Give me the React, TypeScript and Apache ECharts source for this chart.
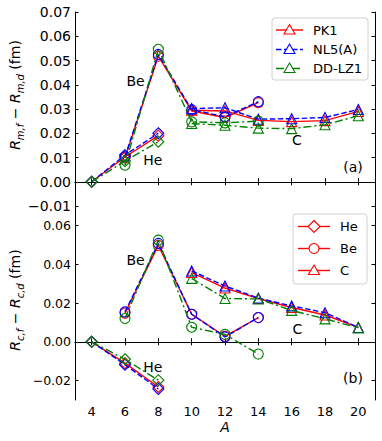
import React, { useEffect, useRef } from "react";
import * as echarts from "echarts";

// Mass numbers per isotope chain
const A_HE = [4, 6, 8];
const A_BE = [6, 8, 10, 12, 14];
const A_C = [10, 12, 14, 16, 18, 20];
const X_TICKS = [4, 6, 8, 10, 12, 14, 16, 18, 20];
const Y_TICKS_A = [-0.01, 0, 0.01, 0.02, 0.03, 0.04, 0.05, 0.06, 0.07];
const Y_TICKS_B = [-0.02, 0, 0.02, 0.04, 0.06];

const MODELS = ["PK1", "NL5(A)", "DD-LZ1"];
const COLORS = ["#ff0000", "#0000ff", "#008000"];
const DASHES: any[] = ["solid", [5.5, 2.5], [8, 3, 2, 3]];

// Panel (a): R_m,f - R_m,d (fm)
const rmHe = [
  [0, 0.0102, 0.019],
  [0, 0.011, 0.02],
  [0, 0.0085, 0.0165],
];
const rmBe = [
  [0.0098, 0.0518, 0.0292, 0.0265, 0.0326],
  [0.0103, 0.0525, 0.0297, 0.0268, 0.033],
  [0.0068, 0.0546, 0.0247, 0.0243, 0.025],
];
const rmC = [
  [0.0295, 0.0292, 0.0253, 0.0248, 0.0252, 0.029],
  [0.0302, 0.0305, 0.0258, 0.026, 0.0265, 0.0298],
  [0.024, 0.0233, 0.0221, 0.0219, 0.0235, 0.0272],
];

// Panel (b): R_c,f - R_c,d (fm)
const rcHe = [
  [0, -0.011, -0.0233],
  [0, -0.0118, -0.0243],
  [0, -0.009, -0.0198],
];
const rcBe = [
  [0.0148, 0.0497, 0.0142, 0.0028, 0.0125],
  [0.0154, 0.0507, 0.0142, 0.0025, 0.0125],
  [0.012, 0.0524, 0.0075, 0.0038, -0.0063],
];
const rcC = [
  [0.0357, 0.0277, 0.0223, 0.0177, 0.0138, 0.0074],
  [0.0365, 0.0288, 0.0225, 0.0185, 0.015, 0.0074],
  [0.0327, 0.0223, 0.0221, 0.0162, 0.0118, 0.0072],
];

const FONT = "DejaVu Sans";

function fmt(v: number) {
  const s = Math.abs(v).toFixed(2);
  return v < -1e-9 ? "\u2212" + s : s;
}

function mk(
  xs: number[],
  ys: number[],
  m: number,
  symbol: string,
  size: number,
  axis: number
) {
  return {
    type: "line",
    xAxisIndex: axis,
    yAxisIndex: axis,
    data: xs.map((x, i) => [x, ys[i]]),
    symbol,
    symbolSize: size,
    showAllSymbol: true,
    lineStyle: { color: COLORS[m], width: 1.4, type: DASHES[m] },
    itemStyle: { color: "rgba(0,0,0,0)", borderColor: COLORS[m], borderWidth: 1.1 },
    z: 3 + m,
    silent: true,
  };
}

function legendGraphic(
  x0: number,
  y0: number,
  w: number,
  h: number,
  rows: { y: number; text: string; color: string; dash: any; symbol: string }[],
  lx0: number,
  lx1: number,
  tx: number
) {
  const els: any[] = [
    {
      type: "rect",
      shape: { x: x0, y: y0, width: w, height: h, r: 3 },
      style: { fill: "rgba(255,255,255,0.8)", stroke: "#d0d0d0", lineWidth: 1 },
      z: 20,
    },
  ];
  rows.forEach((r) => {
    els.push({
      type: "line",
      shape: { x1: lx0, y1: r.y, x2: lx1, y2: r.y },
      style: {
        stroke: r.color,
        lineWidth: 1.4,
        lineDash: r.dash === "solid" ? null : r.dash,
      },
      z: 21,
    });
    const cx = (lx0 + lx1) / 2;
    const st = { fill: "#fff", stroke: r.color, lineWidth: 1.1 };
    if (r.symbol === "triangle") {
      els.push({
        type: "polygon",
        shape: { points: [[cx, r.y - 5.5], [cx + 5.5, r.y + 4], [cx - 5.5, r.y + 4]] },
        style: st,
        z: 22,
      });
    } else if (r.symbol === "circle") {
      els.push({ type: "circle", shape: { cx, cy: r.y, r: 5 }, style: st, z: 22 });
    } else {
      els.push({
        type: "polygon",
        shape: { points: [[cx, r.y - 6], [cx + 6, r.y], [cx, r.y + 6], [cx - 6, r.y]] },
        style: st,
        z: 22,
      });
    }
    els.push({
      type: "text",
      x: tx,
      y: r.y,
      style: { text: r.text, font: `13px "${FONT}"`, fill: "#000", verticalAlign: "middle" },
      z: 22,
    });
  });
  return els;
}

function txt(x: number, y: number, text: string, size = 14, align = "center") {
  return {
    type: "text",
    x,
    y,
    style: {
      text,
      font: `${size}px "${FONT}"`,
      fill: "#000",
      align,
      verticalAlign: "middle",
    },
    z: 15,
  };
}

function yTitle(x: number, y: number, sub1: string, sub2: string) {
  return {
    type: "text",
    x,
    y,
    rotation: Math.PI / 2,
    style: {
      text: `{i|R}{s|${sub1}}{n| \u2212 }{i|R}{s|${sub2}}{n| (fm)}`,
      align: "center",
      verticalAlign: "middle",
      rich: {
        i: { fontFamily: FONT, fontSize: 14, fontStyle: "italic", lineHeight: 20, verticalAlign: "middle" },
        n: { fontFamily: FONT, fontSize: 14, lineHeight: 20, verticalAlign: "middle" },
        s: { fontFamily: FONT, fontSize: 10, fontStyle: "italic", lineHeight: 10, verticalAlign: "bottom" },
      },
      fill: "#000",
    },
    z: 15,
  };
}

export default function App() {
  const ref = useRef<HTMLDivElement>(null);
  useEffect(() => {
    if (!ref.current) return;
    const chart = echarts.init(ref.current, null, { renderer: "svg" });

    const axisLine = { show: true, lineStyle: { color: "#000", width: 1 } };
    const tickIn = (len = 3.5) => ({
      show: true,
      inside: true,
      length: len,
      lineStyle: { color: "#000", width: 1 },
    });

    const xAx = (grid: number, pos: "bottom" | "top", labels: boolean) => ({
      type: "value",
      gridIndex: grid,
      position: pos,
      min: 3,
      max: 21,
      axisLine,
      axisTick: { ...tickIn(), customValues: X_TICKS },
      axisLabel: {
        show: labels,
        customValues: X_TICKS,
        margin: 5,
        fontFamily: FONT,
        fontSize: 13,
        color: "#000",
      },
      splitLine: { show: false },
    });

    const series: any[] = [];
    for (let m = 0; m < 3; m++) {
      series.push(mk(A_HE, rmHe[m], m, "diamond", 11, 0));
      series.push(mk(A_BE, rmBe[m], m, "circle", 10, 0));
      series.push(mk(A_C, rmC[m], m, "triangle", 10, 0));
      series.push(mk(A_HE, rcHe[m], m, "diamond", 11, 2));
      series.push(mk(A_BE, rcBe[m], m, "circle", 10, 2));
      series.push(mk(A_C, rcC[m], m, "triangle", 10, 2));
    }
    // zero reference lines
    [0, 2].forEach((ax) => {
      series.push({
        type: "line",
        xAxisIndex: ax,
        yAxisIndex: ax,
        data: [],
        markLine: {
          silent: true,
          symbol: "none",
          label: { show: false },
          lineStyle: { color: "#000", type: [5, 3], width: 1 },
          data: [{ yAxis: 0 }],
        },
        z: 1,
      });
    });

    const graphic: any[] = [
      ...legendGraphic(
        272,
        18,
        96,
        62,
        MODELS.map((name, m) => ({
          y: [30, 49.5, 68.5][m],
          text: name,
          color: COLORS[m],
          dash: DASHES[m],
          symbol: "triangle",
        })),
        276,
        303,
        313
      ),
      ...legendGraphic(
        293,
        214,
        74,
        70,
        [
          { y: 226.5, text: "He", color: COLORS[0], dash: "solid", symbol: "diamond" },
          { y: 248.5, text: "Be", color: COLORS[0], dash: "solid", symbol: "circle" },
          { y: 270.5, text: "C", color: COLORS[0], dash: "solid", symbol: "triangle" },
        ],
        298,
        330,
        340
      ),
      txt(135.5, 81, "Be"),
      txt(152.7, 160.3, "He"),
      txt(297, 140.3, "C"),
      txt(353, 167, "(a)"),
      txt(135.5, 259.5, "Be"),
      txt(152.7, 366.7, "He"),
      txt(297.5, 329, "C"),
      txt(353, 377.5, "(b)"),
      // lowest tick label of panel (a), which ECharts suppresses at the panel joint
      txt(71, 206, fmt(Y_TICKS_A[0]), 14, "right"),
      {
        type: "text",
        x: 225,
        y: 427,
        style: {
          text: "A",
          font: `italic 14px "${FONT}"`,
          fill: "#000",
          align: "center",
          verticalAlign: "middle",
        },
      },
      yTitle(15, 95, "m,f", "m,d"),
      yTitle(15, 300, "c,f", "c,d"),
    ];

    chart.setOption({
      animation: false,
      backgroundColor: "#fff",
      textStyle: { fontFamily: FONT },
      grid: [
        { left: 75, right: 7, top: 12, height: 194 },
        { left: 75, right: 7, top: 206, height: 194 },
      ],
      xAxis: [
        xAx(0, "bottom", false),
        xAx(0, "top", false),
        xAx(1, "bottom", true),
        xAx(1, "top", false),
      ],
      yAxis: [
        {
          type: "value",
          gridIndex: 0,
          position: "left",
          min: -0.01,
          max: 0.07,
          axisLine,
          axisTick: { ...tickIn(), customValues: Y_TICKS_A },
          axisLabel: {
            customValues: Y_TICKS_A,
            margin: 4,
            fontFamily: FONT,
            fontSize: 14,
            color: "#000",
            formatter: (v: number) => (v < -0.005 ? "" : fmt(v)),
          },
          splitLine: { show: false },
        },
        {
          type: "value",
          gridIndex: 0,
          position: "right",
          min: -0.01,
          max: 0.07,
          axisLine,
          axisTick: { ...tickIn(), customValues: Y_TICKS_A },
          axisLabel: { show: false },
          splitLine: { show: false },
        },
        {
          type: "value",
          gridIndex: 1,
          position: "left",
          min: -0.03,
          max: 0.07,
          axisLine,
          axisTick: { ...tickIn(), customValues: Y_TICKS_B },
          axisLabel: {
            customValues: Y_TICKS_B,
            margin: 4,
            fontFamily: FONT,
            fontSize: 12.5,
            color: "#000",
            formatter: (v: number) => fmt(v),
          },
          splitLine: { show: false },
        },
        {
          type: "value",
          gridIndex: 1,
          position: "right",
          min: -0.03,
          max: 0.07,
          axisLine,
          axisTick: { ...tickIn(), customValues: Y_TICKS_B },
          axisLabel: { show: false },
          splitLine: { show: false },
        },
      ],
      series,
      graphic,
    });
    return () => chart.dispose();
  }, []);

  return (
    <div
      ref={ref}
      style={{ width: 382, height: 441, position: "absolute", left: 0, top: 0 }}
    />
  );
}
